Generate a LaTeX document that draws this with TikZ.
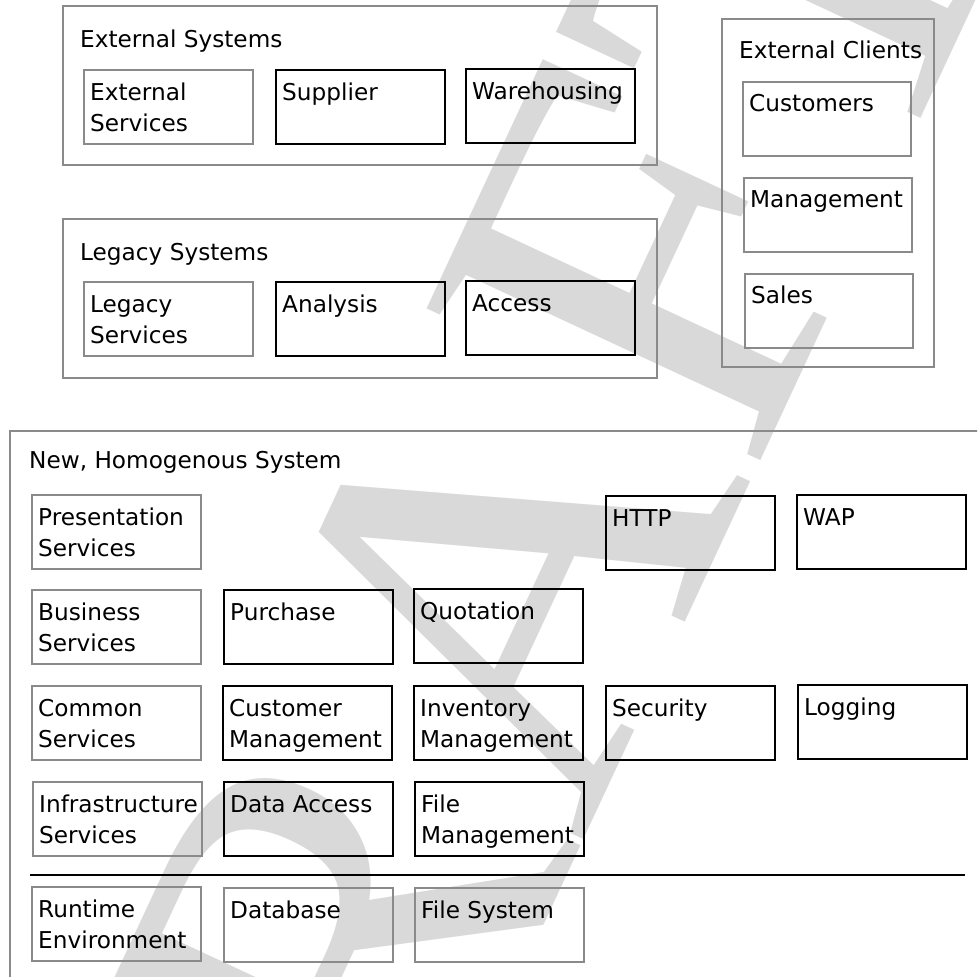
\documentclass[tikz,border=0pt]{standalone}
\usepackage{fontspec}
\setmainfont{DejaVu Sans}
\newfontfamily\markfont{Liberation Serif}
\definecolor{framegray}{HTML}{8A8A8A}
\definecolor{markgray}{HTML}{D9D9D9}
\newcommand\twolines[2]{\begin{tabular}[t]{@{}l@{}}#1\\#2\end{tabular}}
\tikzset{
  box/.style={rectangle, anchor=north west, inner sep=0pt, line width=1.8pt,
    minimum width=169pt, minimum height=74pt},
  svcbox/.style={box, draw=framegray},
  compbox/.style={box, draw=black},
  group/.style={rectangle, anchor=north west, inner sep=0pt, line width=1.8pt, draw=framegray},
  lbl/.style={anchor=base west, inner sep=0pt, font=\fontsize{23.2}{31}\selectfont},
  watermark/.style={inner sep=0pt, text=markgray, font=\markfont\fontsize{560}{560}\selectfont},
}
\begin{document}
\begin{tikzpicture}[x=1pt, y=-1pt]
\useasboundingbox (0,0) rectangle (977,977);
\clip (0,0) rectangle (977,977);

% background watermark
\node[watermark, rotate=65] (draftmark) at (474,640) {DRAFT};

% external systems
\node[group, minimum width=594pt, minimum height=159pt] (extsys) at (62,5) {};
\node[lbl] (extsys-t) at (80,47) {External Systems};
\node[svcbox] (extsvc) at (83,69) {};
\node[compbox] (supplier) at (275,69) {};
\node[compbox] (warehouse) at (465,68) {};
\node[lbl] at ([shift={(7,31)}]extsvc.north west) {\twolines{External}{Services}};
\node[lbl] at ([shift={(7,31)}]supplier.north west) {Supplier};
\node[lbl] at ([shift={(7,31)}]warehouse.north west) {Warehousing};

% legacy systems
\node[group, minimum width=594pt, minimum height=159pt] (legsys) at (62,218) {};
\node[lbl] (legsys-t) at (80,260) {Legacy Systems};
\node[svcbox] (legsvc) at (83,281) {};
\node[compbox] (analysis) at (275,281) {};
\node[compbox] (access) at (465,280) {};
\node[lbl] at ([shift={(7,31)}]legsvc.north west) {\twolines{Legacy}{Services}};
\node[lbl] at ([shift={(7,31)}]analysis.north west) {Analysis};
\node[lbl] at ([shift={(7,31)}]access.north west) {Access};

% external clients
\node[group, minimum width=212pt, minimum height=348pt] (extcli) at (721,18) {};
\node[lbl] (extcli-t) at (739,58) {External Clients};
\node[svcbox, minimum width=168pt] (customers) at (742,81) {};
\node[svcbox, minimum width=168pt] (management) at (743,177) {};
\node[svcbox, minimum width=168pt] (sales) at (744,273) {};
\node[lbl] at ([shift={(7,30)}]customers.north west) {Customers};
\node[lbl] at ([shift={(7,30)}]management.north west) {Management};
\node[lbl] at ([shift={(7,30)}]sales.north west) {Sales};

% new, homogenous system (runs off the right and bottom edges)
\node[group, minimum width=1000pt, minimum height=600pt] (newsys) at (9,430) {};
\node[lbl] (newsys-t) at (29,468) {New, Homogenous System};

\node[svcbox] (pres) at (31,494) {};
\node[compbox] (http) at (605,495) {};
\node[compbox] (wap) at (796,494) {};

\node[svcbox] (bus) at (31,589) {};
\node[compbox] (purchase) at (223,589) {};
\node[compbox] (quotation) at (413,588) {};

\node[svcbox] (common) at (31,685) {};
\node[compbox] (custmgmt) at (222,685) {};
\node[compbox] (invmgmt) at (413,685) {};
\node[compbox] (security) at (605,685) {};
\node[compbox] (logging) at (797,684) {};

\node[svcbox] (infra) at (32,781) {};
\node[compbox] (dataaccess) at (223,781) {};
\node[compbox] (filemgmt) at (414,781) {};

\coordinate (sepL) at (30,875);
\coordinate (sepR) at (965,875);
\draw[line width=1.8pt] (sepL) -- (sepR);

\node[svcbox] (runtime) at (31,886) {};
\node[svcbox] (database) at (223,887) {};
\node[svcbox] (filesys) at (414,887) {};

\foreach \n/\t in {pres/{\twolines{Presentation}{Services}}, http/HTTP, wap/WAP,
  bus/{\twolines{Business}{Services}}, purchase/Purchase, quotation/Quotation,
  common/{\twolines{Common}{Services}}, custmgmt/{\twolines{Customer}{Management}},
  invmgmt/{\twolines{Inventory}{Management}}, security/Security, logging/Logging,
  infra/{\twolines{Infrastructure}{Services}}, dataaccess/{Data Access},
  filemgmt/{\twolines{File}{Management}},
  runtime/{\twolines{Runtime}{Environment}}, database/Database, filesys/{File System}}
  \node[lbl] at ([shift={(7,31)}]\n.north west) {\t};
\end{tikzpicture}
\end{document}
